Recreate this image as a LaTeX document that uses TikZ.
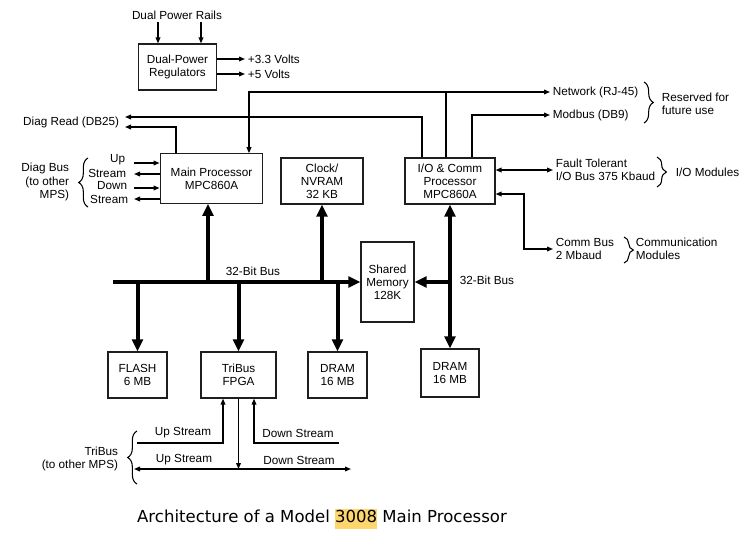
\documentclass[tikz,border=0pt]{standalone}
\usepackage{fontspec}
\setmainfont{Liberation Sans}
\newfontfamily\capfont{DejaVu Sans}
\usepackage{tikz}
\usetikzlibrary{arrows.meta, decorations.pathreplacing}
\usepackage{xcolor}
\definecolor{hilite}{RGB}{253, 214, 110}
\definecolor{edge}{RGB}{30, 30, 30}

\begin{document}
\begin{tikzpicture}[x=0.75pt, y=-0.75pt, >={Triangle[length=4.5pt, width=3.5pt]},
    font=\fontsize{8.8}{9.8}\selectfont,
    big/.tip={Triangle[length=9pt, width=8pt]},
    box/.style={draw=edge, line width=0.9pt, align=center, inner sep=0pt},
    wire/.style={line width=1pt},
    bus/.style={line width=3pt},
    lbl/.style={inner sep=2pt},
    brc/.style={decorate, decoration={brace, amplitude=7pt}, line width=0.8pt}]
  \fill[white] (0,0) rectangle (752,546);
  \useasboundingbox (0,0) rectangle (752,546);

  % boxes
  \node[box, minimum width=59pt, minimum height=34.5pt] (reg) at (177.5,67) {Dual-Power\\Regulators};
  \node[box, minimum width=77pt, minimum height=37pt] (mainp) at (211.5,178.5) {Main Processor\\MPC860A};
  \node[box, minimum width=61.5pt, minimum height=34.5pt] (clock) at (322,181) {Clock/\\NVRAM\\32 KB};
  \node[box, minimum width=67.5pt, minimum height=34.5pt] (iop) at (450,181) {I/O \& Comm\\Processor\\MPC860A};
  \node[box, minimum width=39.75pt, minimum height=60pt] (shmem) at (387.5,282) {Shared\\Memory\\128K};
  \node[box, minimum width=44.25pt, minimum height=34.5pt] (flash) at (137.5,375) {FLASH\\6 MB};
  \node[box, minimum width=56.25pt, minimum height=34.5pt] (fpga) at (238.5,375) {TriBus\\FPGA};
  \node[box, minimum width=44.25pt, minimum height=34.5pt] (dram1) at (337.5,375) {DRAM\\16 MB};
  \node[box, minimum width=43.5pt, minimum height=36pt] (dram2) at (450,373) {DRAM\\16 MB};

  % power
  \node[lbl] (rails) at (177,15) {Dual Power Rails};
  \node[lbl, anchor=west] (v33) at (245,59) {+3.3 Volts};
  \node[lbl, anchor=west] (v5) at (245,74) {+5 Volts};
  \coordinate (pr1) at (158,22);
  \coordinate (pr2) at (201,22);
  \draw[wire, ->] (pr1) -- (pr1 |- reg.north);
  \draw[wire, ->] (pr2) -- (pr2 |- reg.north);
  \draw[wire, ->] (reg.east |- v33.west) -- (v33.west);
  \draw[wire, ->] (reg.east |- v5.west) -- (v5.west);

  % ports at the top
  \node[lbl, anchor=east] (dread) at (122,122) {Diag Read (DB25)};
  \node[lbl, anchor=west] (net) at (550,92) {Network (RJ-45)};
  \node[lbl, anchor=west] (modb) at (550,115) {Modbus (DB9)};
  \node[lbl, anchor=west, align=left] (resv) at (659,104) {Reserved for\\future use};
  \draw[brc] (644,82) -- (644,123);

  \coordinate (ncorner) at (249,92);
  \coordinate (nio) at (446,92);
  \draw[wire, <->] (ncorner |- mainp.north) -- (ncorner) -- (net.west);
  \draw[wire] (nio) -- (nio |- iop.north);
  \coordinate (mcorner) at (472,115);
  \draw[wire, ->] (mcorner |- iop.north) -- (mcorner) -- (modb.west);
  \coordinate (dr1) at (125,117);
  \coordinate (drc1) at (422,117);
  \draw[wire, ->] (drc1 |- iop.north) -- (drc1) -- (dr1);
  \coordinate (dr2) at (125,127);
  \coordinate (drc2) at (176,127);
  \draw[wire, ->] (drc2 |- mainp.north) -- (drc2) -- (dr2);

  % diag bus
  \node[lbl, anchor=east, align=right] (dbus) at (72,182) {Diag Bus\\(to other\\MPS)};
  \draw[brc] (88,207) -- (88,158);
  \node[lbl, anchor=east] (dup1) at (128,160) {Up};
  \node[lbl, anchor=east] (dst1) at (129,173) {Stream};
  \node[lbl, anchor=east] (ddn1) at (130,186) {Down};
  \node[lbl, anchor=east] (dst2) at (131,199) {Stream};
  \coordinate (ds1) at (134,163);
  \coordinate (ds2) at (134,174);
  \coordinate (ds3) at (134,188);
  \coordinate (ds4) at (134,199);
  \draw[wire, ->] (ds1) -- (ds1 -| mainp.west);
  \draw[wire, <-] (ds2) -- (ds2 -| mainp.west);
  \draw[wire, ->] (ds3) -- (ds3 -| mainp.west);
  \draw[wire, <-] (ds4) -- (ds4 -| mainp.west);

  % field side of the I/O processor
  \node[lbl, anchor=west, align=left] (ftbus) at (553,170) {Fault Tolerant\\I/O Bus 375 Kbaud};
  \node[lbl, anchor=west] (iomod) at (673,172) {I/O Modules};
  \draw[brc] (657,157) -- (657,187);
  \node[lbl, anchor=west, align=left] (cbus) at (553,249) {Comm Bus\\2 Mbaud};
  \node[lbl, anchor=west, align=left] (commod) at (633,249) {Communication\\Modules};
  \draw[brc] (624,237) -- (624,263);
  \draw[wire, <->] (iop.east |- ftbus.west) -- (ftbus.west);
  \coordinate (cbc) at (524,194);
  \draw[wire, <->] (iop.east |- cbc) -- (cbc) |- (cbus.west);

  % 32-bit buses
  \node[lbl] (buslbl) at (253,271) {32-Bit Bus};
  \node[lbl, anchor=west] (buslbl2) at (457,280) {32-Bit Bus};
  \coordinate (busl) at (113,282);
  \coordinate (mpb) at (208,282);
  \draw[bus, -big] (busl) -- (shmem.west);
  \draw[bus, -big] (mpb) -- (mpb |- mainp.south);
  \draw[bus, -big] (clock.south |- busl) -- (clock.south);
  \draw[bus, -big] (flash.north |- busl) -- (flash.north);
  \draw[bus, -big] (fpga.north |- busl) -- (fpga.north);
  \draw[bus, -big] (dram1.north |- busl) -- (dram1.north);
  \draw[bus, big-big] (iop.south) -- (dram2.north);
  \draw[bus, -big] (iop.south |- shmem.east) -- (shmem.east);

  % tribus
  \node[lbl] (upl) at (183,433) {Up Stream};
  \node[lbl] (dnl) at (298,433) {Down Stream};
  \node[lbl] (upl2) at (184,460) {Up Stream};
  \node[lbl] (dnl2) at (299,460) {Down Stream};
  \node[lbl, anchor=east, align=right] (tri) at (121,459) {TriBus\\(to other MPS)};
  \draw[brc] (137,484) -- (137,431);
  \coordinate (usl) at (137,443);
  \coordinate (usc) at (223,443);
  \draw[wire, ->] (usl) -- (usc) -- (usc |- fpga.south);
  \coordinate (dsr) at (339,443);
  \coordinate (dsc) at (254,443);
  \draw[wire, ->] (dsr) -- (dsc) -- (dsc |- fpga.south);
  \coordinate (tl) at (134,469);
  \coordinate (tr) at (351,469);
  \draw[wire, ->] (fpga.south) -- (fpga.south |- tl);
  \draw[wire, <->] (tl) -- (tr);

  % caption
  \node[font=\capfont\fontsize{12.4}{14.5}\selectfont] (cap) at (322,519)
    {Architecture of a Model {\setlength{\fboxsep}{0pt}\colorbox{hilite}{\strut 3008}} Main Processor};
\end{tikzpicture}
\end{document}
